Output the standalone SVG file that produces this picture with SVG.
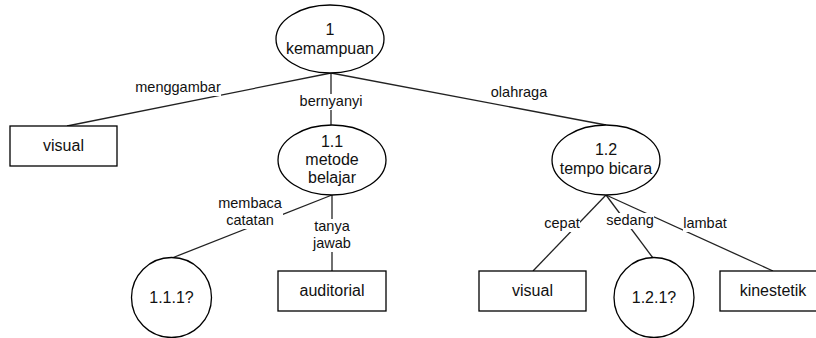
<svg xmlns="http://www.w3.org/2000/svg" width="816" height="338" viewBox="0 0 816 338">
<style>
.shape{fill:#fff;stroke:#000;stroke-width:1.3}
.edge{stroke:#222;stroke-width:1.3;fill:none}
.nt{font-family:"Liberation Sans",Arial,sans-serif;font-size:16px;fill:#111;text-anchor:middle}
.lt{font-family:"Liberation Sans",Arial,sans-serif;font-size:14.5px;fill:#111;text-anchor:middle}
.bg{fill:#fff;stroke:none}
</style>
<rect width="816" height="338" fill="#fff"/>
<g id="connectors">
<line class="edge" x1="331" y1="73" x2="67" y2="126"/>
<line class="edge" x1="331" y1="73" x2="331" y2="125"/>
<line class="edge" x1="331" y1="73" x2="606" y2="125"/>
<line class="edge" x1="332" y1="195" x2="172" y2="258"/>
<line class="edge" x1="332" y1="195" x2="332" y2="271"/>
<line class="edge" x1="606" y1="195" x2="533" y2="271"/>
<line class="edge" x1="606" y1="195" x2="653" y2="258"/>
<line class="edge" x1="606" y1="195" x2="773" y2="271"/>
<g id="edge-labels">
<rect class="bg" x="135" y="80" width="86" height="16"/>
<text class="lt" x="178" y="92">menggambar</text>
<rect class="bg" x="300" y="94" width="63" height="16"/>
<text class="lt" x="331" y="106">bernyanyi</text>
<text class="lt" x="519" y="97">olahraga</text>
<rect class="bg" x="217" y="196" width="66" height="33"/>
<text class="lt" x="250" y="208">membaca</text>
<text class="lt" x="250" y="225">catatan</text>
<rect class="bg" x="312" y="219" width="40" height="33"/>
<text class="lt" x="332" y="231">tanya</text>
<text class="lt" x="332" y="248">jawab</text>
<rect class="bg" x="544" y="216" width="36" height="16"/>
<text class="lt" x="562" y="228">cepat</text>
<rect class="bg" x="606" y="213" width="48" height="16"/>
<text class="lt" x="630" y="225">sedang</text>
<rect class="bg" x="683" y="216" width="44" height="16"/>
<text class="lt" x="705" y="228">lambat</text>
</g>
</g>
<g id="node-1">
<ellipse class="shape" cx="330" cy="39" rx="54" ry="34"/>
<text class="nt" x="330" y="35">1</text>
<text class="nt" x="330" y="54">kemampuan</text>
</g>
<g id="node-visual-left">
<rect class="shape" x="10" y="126" width="107" height="40"/>
<text class="nt" x="63.5" y="151">visual</text>
</g>
<g id="node-1-1">
<ellipse class="shape" cx="332" cy="160" rx="54" ry="35"/>
<text class="nt" x="332" y="146.5">1.1</text>
<text class="nt" x="332" y="164.5">metode</text>
<text class="nt" x="332" y="182.5">belajar</text>
</g>
<g id="node-1-2">
<ellipse class="shape" cx="606" cy="160" rx="54" ry="35"/>
<text class="nt" x="606" y="155">1.2</text>
<text class="nt" x="606" y="174">tempo bicara</text>
</g>
<g id="node-1-1-1">
<circle class="shape" cx="171.5" cy="297.5" r="40"/>
<text class="nt" x="171.5" y="303">1.1.1?</text>
</g>
<g id="node-auditorial">
<rect class="shape" x="278" y="271" width="108" height="40"/>
<text class="nt" x="332" y="296">auditorial</text>
</g>
<g id="node-visual-right">
<rect class="shape" x="479" y="271" width="107" height="40"/>
<text class="nt" x="532.5" y="296">visual</text>
</g>
<g id="node-1-2-1">
<circle class="shape" cx="654" cy="297.5" r="40"/>
<text class="nt" x="654" y="303">1.2.1?</text>
</g>
<g id="node-kinestetik">
<rect class="shape" x="720" y="271" width="107" height="40"/>
<text class="nt" x="773" y="296">kinestetik</text>
</g>
</svg>
